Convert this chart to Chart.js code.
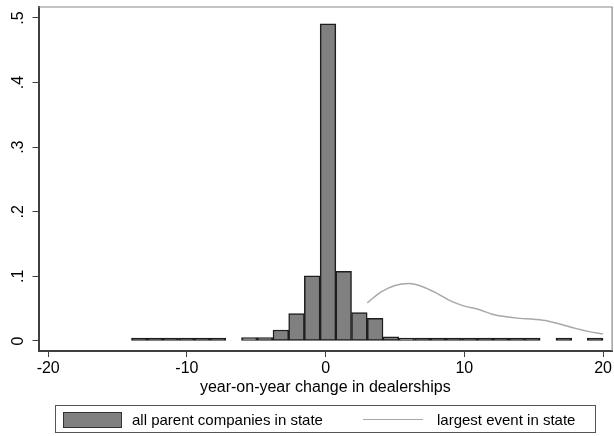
<!DOCTYPE html>
<html>
<head>
<meta charset="utf-8">
<script src="https://cdn.jsdelivr.net/npm/chart.js@4.4.1/dist/chart.umd.min.js"></script>
<style>
  html, body { margin: 0; padding: 0; background: #fff; }
  #wrap { position: relative; width: 614px; height: 436px; }
  canvas { position: absolute; left: 0; top: 0; }
  .legend {
    position: absolute; left: 55px; top: 405px; width: 541px; height: 28px;
    border: 1px solid #555; box-sizing: border-box;
    font-family: "Liberation Sans", Arial, sans-serif; font-size: 15px; color: #000;
  }
  .legend .patch {
    position: absolute; left: 7px; top: 6px; width: 59px; height: 16px;
    background: #808080; border: 1.5px solid #333; box-sizing: border-box;
  }
  .legend .lbl { position: absolute; top: 5px; line-height: 17px; white-space: nowrap; }
  .legend .line {
    position: absolute; left: 307px; top: 13px; width: 60px; height: 0;
    border-top: 1.5px solid #a8a8a8;
  }
</style>
</head>
<body>
<div id="wrap">
  <canvas id="histChart" width="614" height="436"></canvas>
  <div class="legend">
    <div class="patch"></div>
    <span class="lbl" style="left:76px">all parent companies in state</span>
    <div class="line"></div>
    <span class="lbl" style="left:381px">largest event in state</span>
  </div>
</div>
<script>
// ===== DONNÉES =====
// milieux des classes (largeur ~1.13)
const binMid = [-13.43, -12.30, -11.17, -10.03, -8.90, -7.77, -6.63, -5.50, -4.37, -3.23,
                -2.10, -0.97, 0.17, 1.30, 2.43, 3.57, 4.70, 5.83, 6.97, 8.10,
                9.23, 10.37, 11.50, 12.63, 13.77, 14.90, 16.03, 17.17, 18.30, 19.43];
const density = [0.0012, 0.0012, 0.0012, 0.0012, 0.0012, 0.0012, null, 0.0052, 0.0053, 0.017,
                 0.0426, 0.101, 0.491, 0.108, 0.044, 0.035, 0.0065, 0.0037, 0.0025, 0.0015,
                 0.0015, 0.0015, 0.0018, 0.0018, 0.0018, 0.0018, null, 0.0018, null, 0.0018];

// courbe "largest event in state"
const eventX = [3, 4, 5, 6, 7, 8, 9, 10, 11, 12, 13, 14, 15, 16, 17, 18, 19, 20];
const eventY = [0.059, 0.076, 0.086, 0.089, 0.084, 0.074, 0.062, 0.054, 0.049, 0.0415,
                0.0375, 0.035, 0.0335, 0.031, 0.0255, 0.0195, 0.0145, 0.011];

const xTicks = [-20, -10, 0, 10, 20];
const yTicks = [0, 0.1, 0.2, 0.3, 0.4, 0.5];
const yTickLabels = ['0', '.1', '.2', '.3', '.4', '.5'];

const FONT = '"Liberation Sans", Arial, sans-serif';
const BAR_GREY = '#808080';
const BAR_EDGE = '#1e1e1e';

// cadre du graphique (haut + droite) et étiquettes Y tournées
const framePlugin = {
    id: 'frame',
    beforeDatasetsDraw(chart) {
        const { ctx, chartArea } = chart;
        ctx.save();
        ctx.strokeStyle = '#8a8a8a';
        ctx.lineWidth = 1.2;
        ctx.beginPath();
        ctx.moveTo(chartArea.left, chartArea.top);
        ctx.lineTo(chartArea.right, chartArea.top);
        ctx.lineTo(chartArea.right, chartArea.bottom);
        ctx.stroke();
        ctx.restore();
    },
    afterDraw(chart) {
        const { ctx } = chart;
        const yScale = chart.scales.y;
        ctx.save();
        ctx.fillStyle = '#000';
        ctx.font = '16px ' + FONT;
        ctx.textAlign = 'center';
        ctx.textBaseline = 'middle';
        yTicks.forEach((v, i) => {
            const py = yScale.getPixelForValue(v);
            ctx.save();
            ctx.translate(19, py);
            ctx.rotate(-Math.PI / 2);
            ctx.fillText(yTickLabels[i], 0, 0);
            ctx.restore();
        });
        ctx.restore();
    }
};

const ctx = document.getElementById('histChart').getContext('2d');
const chart = new Chart(ctx, {
    data: {
        datasets: [
            {
                type: 'bar',
                label: 'all parent companies in state',
                data: binMid.map((x, i) => ({ x: x, y: density[i] })),
                // les barres quasi nulles ne montrent que leur contour noir
                backgroundColor: c => (c.raw && c.raw.y !== null && c.raw.y < 0.003) ? BAR_EDGE : BAR_GREY,
                borderColor: BAR_EDGE,
                borderWidth: 1.5,
                borderSkipped: false,
                barPercentage: 1,
                categoryPercentage: 1,
                minBarLength: 3,
                order: 2
            },
            {
                type: 'line',
                label: 'largest event in state',
                data: eventX.map((x, i) => ({ x: x, y: eventY[i] })),
                borderColor: '#a8a8a8',
                borderWidth: 1.5,
                pointRadius: 0,
                cubicInterpolationMode: 'monotone',
                fill: false,
                order: 1
            }
        ]
    },
    plugins: [framePlugin],
    options: {
        responsive: false,
        animation: false,
        layout: { padding: { top: 7, right: 1, left: 0, bottom: 39 } },
        plugins: {
            legend: { display: false },
            tooltip: { enabled: false }
        },
        scales: {
            x: {
                type: 'linear',
                min: -20.7,
                max: 20.65,
                offset: false,
                afterBuildTicks: scale => { scale.ticks = xTicks.map(v => ({ value: v })); },
                afterFit: scale => { scale.height = 46; },
                ticks: {
                    color: '#000',
                    font: { family: FONT, size: 16 },
                    padding: 2,
                    maxRotation: 0,
                    autoSkip: false
                },
                grid: {
                    offset: false,
                    drawOnChartArea: false,
                    drawTicks: true,
                    tickLength: 6,
                    color: '#404040'
                },
                border: { color: '#404040', width: 2 },
                title: {
                    display: true,
                    text: 'year-on-year change in dealerships',
                    color: '#000',
                    font: { family: FONT, size: 16 },
                    padding: { top: 0, bottom: 0 }
                }
            },
            y: {
                type: 'linear',
                min: -0.0155,
                max: 0.517,
                afterBuildTicks: scale => { scale.ticks = yTicks.map(v => ({ value: v })); },
                afterFit: scale => { scale.width = 38.5; },
                ticks: { display: false },
                grid: {
                    offset: false,
                    drawOnChartArea: false,
                    drawTicks: true,
                    tickLength: 6,
                    color: '#404040'
                },
                border: { color: '#404040', width: 2 }
            }
        }
    }
});
</script>
</body>
</html>
